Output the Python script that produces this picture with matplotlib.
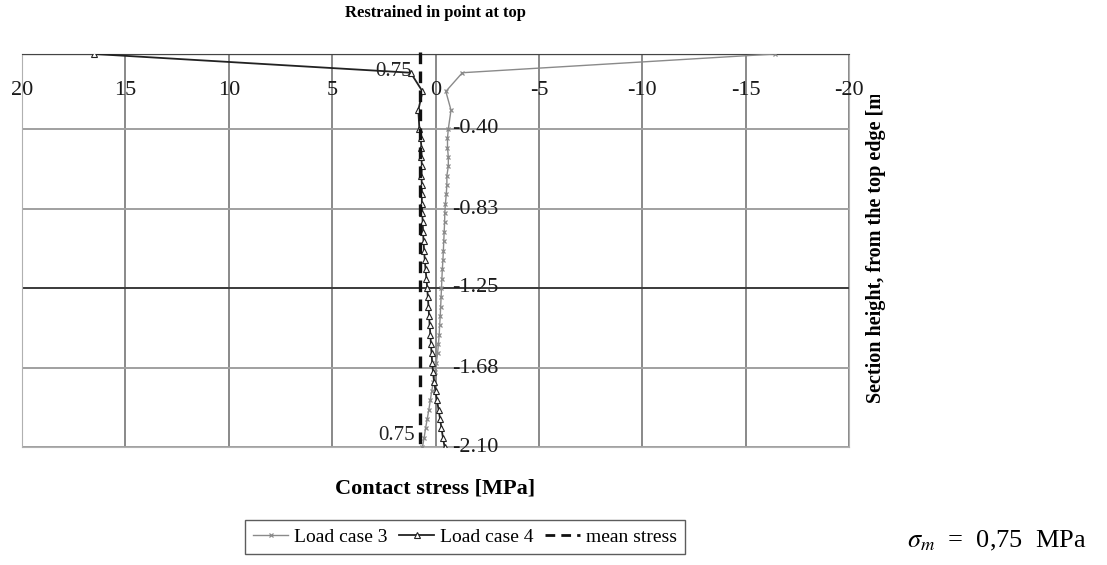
import matplotlib
matplotlib.use("Agg")
import matplotlib.pyplot as plt
from matplotlib.lines import Line2D
from matplotlib.transforms import Bbox

plt.rcParams['font.family'] = ['Liberation Serif', 'DejaVu Serif']
plt.rcParams['mathtext.fontset'] = 'stix'

# depth below the top edge [m] (negative downwards)
depth = [0.00, -0.10, -0.20, -0.30, -0.40, -0.45, -0.50, -0.55, -0.60, -0.65,
         -0.70, -0.75, -0.80, -0.85, -0.90, -0.95, -1.00, -1.05, -1.10, -1.15,
         -1.20, -1.25, -1.30, -1.35, -1.40, -1.45, -1.50, -1.55, -1.60, -1.65,
         -1.70, -1.75, -1.80, -1.85, -1.90, -1.95, -2.00, -2.05, -2.10]

# contact stress [MPa]
lc3 = [-16.4, -1.3, -0.50, -0.75, -0.62, -0.58, -0.58, -0.62, -0.62, -0.55,
       -0.55, -0.52, -0.48, -0.45, -0.44, -0.42, -0.40, -0.38, -0.36, -0.33,
       -0.31, -0.29, -0.27, -0.25, -0.23, -0.20, -0.18, -0.14, -0.10, -0.04,
       0.02, 0.10, 0.18, 0.25, 0.32, 0.40, 0.48, 0.55, 0.63]
lc4 = [16.5, 1.2, 0.63, 0.83, 0.78, 0.72, 0.68, 0.68, 0.66, 0.68,
       0.66, 0.66, 0.66, 0.64, 0.62, 0.60, 0.58, 0.55, 0.52, 0.48,
       0.44, 0.40, 0.37, 0.34, 0.31, 0.28, 0.25, 0.22, 0.19, 0.16,
       0.12, 0.07, 0.00, -0.07, -0.15, -0.22, -0.29, -0.36, -0.44]
mean_stress = 0.75

x_ticks = [20, 15, 10, 5, 0, -5, -10, -15, -20]
y_ticks = [-0.40, -0.83, -1.25, -1.68, -2.10]

W, H = 1107, 565
fig = plt.figure(figsize=(W / 100, H / 100), dpi=100)
ax = fig.add_axes([22 / W, 118 / H, 827 / W, 393 / H])
ax.set_xlim(20, -20)
ax.set_ylim(-2.10, 0)
ax.set_xticks([])
ax.set_yticks([])

# grid drawn by hand so the 0 and -1.25 lines can be heavier
for xv in x_ticks:
    ax.axvline(xv, color='#808080', lw=1.3, zorder=1)
for yv in y_ticks:
    c = '#3a3a3a' if yv == -1.25 else '#a0a0a0'
    ax.axhline(yv, color=c, lw=1.4, zorder=1)
ax.axhline(0, color='#444444', lw=1.6, zorder=1)
for s in ['left', 'right', 'bottom']:
    ax.spines[s].set_color('#b0b0b0')
ax.spines['top'].set_color('#444444')

# tick labels sit on the zero lines
for xv in x_ticks:
    ax.text(xv, -0.195, f'{xv:g}', ha='center', va='center', fontsize=16,
            color='#1a1a1a', zorder=3)
for yv in y_ticks:
    ax.text(-0.8, yv, f'{yv:.2f}', ha='left', va='center', fontsize=16,
            color='#1a1a1a', zorder=3)

ax.plot(lc3, depth, color='#8a8a8a', lw=1.0, marker='x', ms=3.5, mew=0.9,
        zorder=4)
ax.plot(lc4, depth, color='#222222', lw=1.3, marker='^', ms=4, mfc='white',
        mec='#222222', mew=0.8, zorder=5)
ax.plot([mean_stress, mean_stress], [0.01, -2.10], color='#111111', lw=2.4,
        ls=(0, (3.5, 2.2)), clip_on=False, zorder=6)

ax.text(mean_stress + 0.37, -0.095, f'{mean_stress:.2f}', ha='right',
        va='center', fontsize=15, color='#222222', zorder=7)
ax.text(mean_stress + 0.27, -2.04, f'{mean_stress:.2f}', ha='right',
        va='center', fontsize=15, color='#222222', zorder=7)

fig.text(435 / W, 1 - 13 / H, 'Restrained in point at top', ha='center',
         va='center', fontsize=12, fontweight='bold')
fig.text(435 / W, 1 - 488 / H, 'Contact stress [MPa]', ha='center',
         va='center', fontsize=16, fontweight='bold')

# axis title on the right, cut off at its top end
ylab = fig.text(876 / W, 1 - 403 / H, 'Section height, from the top edge [m]',
                ha='left', va='center', rotation=90, rotation_mode='anchor',
                fontsize=14.5, fontweight='bold')
ylab.set_clip_box(Bbox.from_extents(0, H - 460, W, H - 95))
ylab.set_clip_on(True)

fig.text(907 / W, 1 - 541 / H, r'$\sigma_m$  =  0,75  MPa', ha='left',
         va='center', fontsize=19)

handles = [
    Line2D([], [], color='#8a8a8a', lw=1.0, marker='x', ms=3.5, mew=0.9),
    Line2D([], [], color='#222222', lw=1.3, marker='^', ms=4, mfc='white',
           mec='#222222', mew=0.8),
    Line2D([], [], color='#111111', lw=2.0, ls=(0, (3.5, 2.2))),
]
leg = fig.legend(handles, ['Load case 3', 'Load case 4', 'mean stress'],
                 loc='center', bbox_to_anchor=(465 / W, 1 - 537 / H), ncol=3,
                 fontsize=14, frameon=True, fancybox=False,
                 handlelength=1.8, handletextpad=0.3, columnspacing=0.6,
                 borderpad=0.4)
leg.get_frame().set_edgecolor('#333333')
leg.get_frame().set_linewidth(1.0)

fig.savefig('out.png', dpi=100)
